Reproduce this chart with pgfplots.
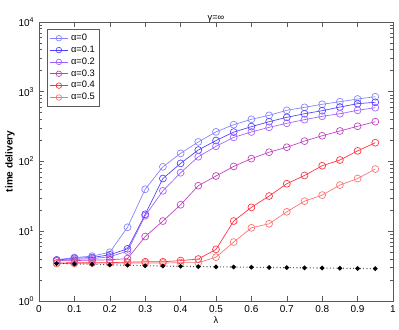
\documentclass[border=0pt]{standalone}
\usepackage{fontspec}
\setmainfont{Liberation Sans}
\usepackage{pgfplots}
\pgfplotsset{compat=1.18}

\definecolor{a0}{RGB}{130,130,255}
\definecolor{a1}{RGB}{80,64,255}
\definecolor{a2}{RGB}{160,96,255}
\definecolor{a3}{RGB}{190,64,190}
\definecolor{a4}{RGB}{255,48,64}
\definecolor{a5}{RGB}{255,112,112}
\definecolor{frame}{RGB}{90,90,90}

\begin{document}
\begin{tikzpicture}
\path[use as bounding box] (-29.25pt,-21pt) rectangle (270pt,225.75pt);
\begin{axis}[
    scale only axis,
    width=265.5pt, height=209.25pt,
    ymode=log,
    xmin=0, xmax=1, ymin=1, ymax=10000,
    xtick={0,0.1,...,1},
    xticklabels={0,0.1,0.2,0.3,0.4,0.5,0.6,0.7,0.8,0.9,1},
    ytick={1,10,100,1000,10000},
    minor ytick={2,3,4,5,6,7,8,9,20,30,40,50,60,70,80,90,200,300,400,500,600,700,800,900,2000,3000,4000,5000,6000,7000,8000,9000},
    yticklabels={10\textsuperscript{0},10\textsuperscript{1},10\textsuperscript{2},10\textsuperscript{3},10\textsuperscript{4}},
    tick align=inside,
    major tick length=3.5pt,
    minor tick length=2pt,
    axis line style={frame, line width=0.5pt},
    every tick/.style={frame, line width=0.4pt},
    tick label style={font=\fontsize{7.5}{8}\selectfont},
    /pgf/number format/assume math mode=true,
    xlabel={λ},
    xlabel style={font=\fontsize{7}{8}\selectfont, yshift=4pt},
    ylabel={\textbf{time delivery}},
    ylabel style={font=\fontsize{7.5}{8}\selectfont, yshift=-4pt},
    title={γ=∞},
    title style={font=\fontsize{7}{8}\selectfont, yshift=-10pt},
    legend style={
        at={(0.023,0.975)}, anchor=north west,
        font=\fontsize{7}{7.5}\selectfont,
        draw=frame, line width=0.5pt,
        row sep=-1.5pt, inner sep=1.5pt,
        /tikz/every even column/.append style={column sep=0pt},
    },
    legend image post style={scale=0.8},
    legend cell align=left,
    every axis plot/.append style={line width=0.5pt},
    mark options={solid},
    mark size=2.6pt,
]
\addplot[color=a0, mark=o] coordinates {
    (0.05,3.9) (0.10,4.2) (0.15,4.4) (0.20,5.0) (0.25,11.4) (0.30,40)
    (0.35,84) (0.40,131) (0.45,191) (0.50,266) (0.55,337) (0.60,403)
    (0.65,459) (0.70,542) (0.75,598) (0.80,661) (0.85,721) (0.90,787) (0.95,849)
};
\addlegendentry{α=0}
\addplot[color=a1, mark=o] coordinates {
    (0.05,3.85) (0.10,4.1) (0.15,4.2) (0.20,4.6) (0.25,5.6) (0.30,17.5)
    (0.35,57) (0.40,94) (0.45,146) (0.50,200) (0.55,264) (0.60,316)
    (0.65,372) (0.70,430) (0.75,484) (0.80,535) (0.85,604) (0.90,675) (0.95,706)
};
\addlegendentry{α=0.1}
\addplot[color=a2, mark=o] coordinates {
    (0.05,3.8) (0.10,3.95) (0.15,4.05) (0.20,4.3) (0.25,5.2) (0.30,16.7)
    (0.35,38) (0.40,69) (0.45,117) (0.50,165) (0.55,222) (0.60,265)
    (0.65,309) (0.70,353) (0.75,398) (0.80,445) (0.85,484) (0.90,542) (0.95,591)
};
\addlegendentry{α=0.2}
\addplot[color=a3, mark=o] coordinates {
    (0.05,3.75) (0.10,3.8) (0.15,3.85) (0.20,3.9) (0.25,4.05) (0.30,8.4)
    (0.35,14) (0.40,24) (0.45,45) (0.50,62) (0.55,85) (0.60,110)
    (0.65,136) (0.70,160) (0.75,196) (0.80,234) (0.85,274) (0.90,320) (0.95,372)
};
\addlegendentry{α=0.3}
\addplot[color=a4, mark=o] coordinates {
    (0.05,3.5) (0.10,3.55) (0.15,3.55) (0.20,3.55) (0.25,3.6) (0.30,3.65)
    (0.35,3.65) (0.40,3.8) (0.45,4.0) (0.50,5.5) (0.55,14) (0.60,22)
    (0.65,32) (0.70,48) (0.75,63) (0.80,87) (0.85,105) (0.90,142) (0.95,186)
};
\addlegendentry{α=0.4}
\addplot[color=a5, mark=o] coordinates {
    (0.05,3.45) (0.10,3.45) (0.15,3.5) (0.20,3.5) (0.25,3.5) (0.30,3.5)
    (0.35,3.5) (0.40,3.55) (0.45,3.55) (0.50,4.25) (0.55,7.0) (0.60,11.2)
    (0.65,12.8) (0.70,19) (0.75,27) (0.80,33) (0.85,46) (0.90,57) (0.95,78)
};
\addlegendentry{α=0.5}
\addplot[black, dotted, line width=0.8pt, mark=*, mark size=1.3pt, forget plot] coordinates {
    (0.05,3.45) (0.10,3.40) (0.15,3.36) (0.20,3.30) (0.25,3.26) (0.30,3.20)
    (0.35,3.17) (0.40,3.14) (0.45,3.11) (0.50,3.09) (0.55,3.07) (0.60,3.05)
    (0.65,3.03) (0.70,3.01) (0.75,2.99) (0.80,2.97) (0.85,2.95) (0.90,2.93) (0.95,2.91)
};
\end{axis}
\end{tikzpicture}
\end{document}
